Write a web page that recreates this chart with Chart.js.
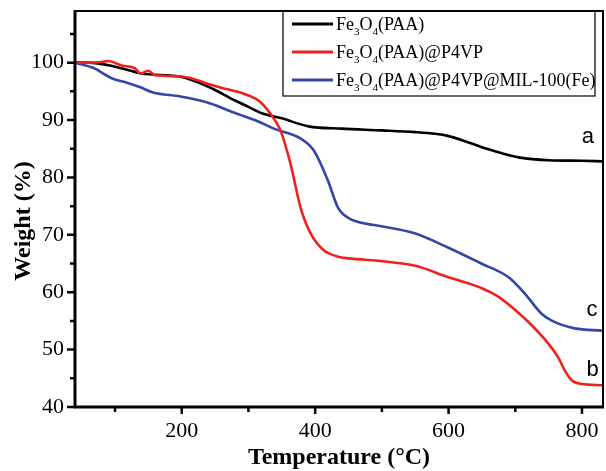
<!DOCTYPE html>
<html><head><meta charset="utf-8">
<script src="https://cdn.jsdelivr.net/npm/chart.js@4"></script>
<style>html,body{margin:0;padding:0;background:#fff}#c{display:block}</style>
</head><body>
<canvas id="c" width="606" height="471"></canvas>
<script>
// ---- data ----
const seriesLabels = ['Fe₃O₄(PAA)', 'Fe₃O₄(PAA)@P4VP', 'Fe₃O₄(PAA)@P4VP@MIL-100(Fe)'];
const curveLetters = ['a', 'b', 'c'];

const tempA   = [40, 60, 100, 140, 200, 240, 280, 300, 320, 350, 390, 440, 500, 550, 580, 600, 630, 660, 680, 705, 750, 800, 830];
const weightA = [100, 100, 99.3, 98.1, 97.5, 95.8, 93.4, 92.3, 91.2, 90.3, 88.9, 88.5, 88.2, 87.9, 87.6, 87.2, 86.1, 84.9, 84.2, 83.5, 83.0, 82.9, 82.8];

const tempB   = [40, 60, 80, 90, 110, 130, 138, 150, 160, 200, 240, 260, 290, 315, 333, 348, 363, 378, 393, 413, 438, 450, 500, 550, 600, 650, 675, 700, 725, 750, 765, 775, 785, 800, 830];
const weightB = [100, 100, 100.1, 100.3, 99.5, 99.0, 98.1, 98.6, 97.8, 97.6, 96.3, 95.6, 94.7, 93.4, 91.1, 88.2, 82.4, 74.8, 70.3, 67.3, 66.1, 65.9, 65.4, 64.6, 62.6, 60.7, 59.2, 56.9, 54.2, 51.0, 48.5, 46.2, 44.6, 44.0, 43.8];

const tempC   = [40, 67, 97, 118, 138, 157, 198, 243, 278, 288, 314, 338, 378, 398, 419, 434, 449, 488, 499, 548, 599, 649, 690, 714, 739, 754, 789, 830];
const weightC = [100, 99.1, 97.2, 96.5, 95.7, 94.8, 94.1, 92.9, 91.3, 90.9, 89.8, 88.5, 86.8, 84.7, 79.5, 74.8, 73.0, 71.7, 71.5, 70.3, 67.8, 65.0, 62.6, 59.8, 56.3, 55.1, 53.7, 53.3];

const xMajorTicks = [200, 400, 600, 800];
const xMinorTicks = [100, 300, 500, 700];
const yMajorTicks = [40, 50, 60, 70, 80, 90, 100];
const yMinorTicks = [45, 55, 65, 75, 85, 95, 105];
// letter anchor points in data units (temperature, weight)
const letterTemps   = [809, 816, 815];
const letterWeights = [87.0, 46.4, 56.9];

const X_MIN = 40, X_MAX = 831.5, Y_MIN = 40, Y_MAX = 109;

// ---- build ----
const colors = ['#000000', '#f0201c', '#3646a6'];
function pts(xs, ys) { return xs.map((x, i) => ({x, y: ys[i]})); }
const dataSets = [pts(tempA, weightA), pts(tempB, weightB), pts(tempC, weightC)];

const serif = "'Liberation Serif', 'Times New Roman', serif";

const decorPlugin = {
  id: 'decor',
  afterDraw(chart) {
    const ctx = chart.ctx;
    const xs = chart.scales.x, ys = chart.scales.y;
    const ca = chart.chartArea;
    ctx.save();
    ctx.strokeStyle = '#000';
    ctx.lineCap = 'butt';
    // frame
    ctx.lineWidth = 2;
    ctx.beginPath();
    ctx.moveTo(ca.left, ca.top); ctx.lineTo(ca.right, ca.top); ctx.lineTo(ca.right, ca.bottom);
    ctx.stroke();
    ctx.lineWidth = 3;
    ctx.beginPath();
    ctx.moveTo(ca.left, ca.top - 1); ctx.lineTo(ca.left, ca.bottom); ctx.lineTo(ca.right + 1, ca.bottom);
    ctx.stroke();
    // ticks
    ctx.lineWidth = 2.5;
    ctx.beginPath();
    xMajorTicks.forEach(v => { const p = xs.getPixelForValue(v); ctx.moveTo(p, ca.bottom); ctx.lineTo(p, ca.bottom + 7); });
    xMinorTicks.forEach(v => { const p = xs.getPixelForValue(v); ctx.moveTo(p, ca.bottom); ctx.lineTo(p, ca.bottom + 5); });
    yMajorTicks.forEach(v => { const p = ys.getPixelForValue(v); ctx.moveTo(ca.left, p); ctx.lineTo(ca.left - 8, p); });
    yMinorTicks.forEach(v => { const p = ys.getPixelForValue(v); ctx.moveTo(ca.left, p); ctx.lineTo(ca.left - 5, p); });
    ctx.stroke();

    // y title
    ctx.save();
    ctx.translate(30, 221);
    ctx.rotate(-Math.PI / 2);
    ctx.font = "bold 24px " + serif;
    ctx.fillStyle = '#000';
    ctx.textAlign = 'center';
    ctx.textBaseline = 'alphabetic';
    ctx.fillText('Weight (%)', 0, 0);
    ctx.restore();

    // legend box
    const bx = 283, by = ca.top, bw = 312, bh = 85;
    ctx.lineWidth = 1.2;
    ctx.strokeRect(bx, by, bw, bh);
    const rowY = [24, 52, 80];
    const tails = ['(PAA)', '(PAA)@P4VP', '(PAA)@P4VP@MIL-100(Fe)'];
    rowY.forEach((y, i) => {
      ctx.strokeStyle = colors[i];
      ctx.lineWidth = 3;
      ctx.beginPath(); ctx.moveTo(292, y); ctx.lineTo(333, y); ctx.stroke();
      ctx.fillStyle = '#000';
      ctx.textAlign = 'left';
      ctx.textBaseline = 'alphabetic';
      let x = 336; const base = y + 6;
      const big = "18px " + serif, small = "11px " + serif;
      const parts = [['Fe', big, 0], ['3', small, 5], ['O', big, 0], ['4', small, 5], [tails[i], big, 0]];
      parts.forEach(([t, f, dy]) => { ctx.font = f; ctx.fillText(t, x, base + dy); x += ctx.measureText(t).width; });
    });

    // curve letters
    ctx.font = "22px 'Liberation Sans', Arial, sans-serif";
    ctx.fillStyle = '#000';
    ctx.textAlign = 'center';
    ctx.textBaseline = 'middle';
    curveLetters.forEach((l, i) => {
      ctx.fillText(l, xs.getPixelForValue(letterTemps[i]), ys.getPixelForValue(letterWeights[i]));
    });
    ctx.restore();
  }
};

function noPad(s) { s.paddingTop = 0; s.paddingBottom = 0; s.paddingLeft = 0; s.paddingRight = 0; }

new Chart(document.getElementById('c'), {
  type: 'line',
  data: {
    datasets: dataSets.map((d, i) => ({
      label: seriesLabels[i],
      data: d,
      borderColor: colors[i],
      backgroundColor: colors[i],
      borderWidth: 2.6,
      pointRadius: 0,
      fill: false,
      cubicInterpolationMode: 'monotone',
      order: i === 1 ? 0 : 1
    }))
  },
  options: {
    responsive: false,
    animation: false,
    devicePixelRatio: 1,
    layout: { padding: { left: 0, right: 3, top: 11, bottom: 0 } },
    plugins: { legend: { display: false }, tooltip: { enabled: false } },
    scales: {
      x: {
        type: 'linear', min: X_MIN, max: X_MAX,
        afterBuildTicks: s => { s.ticks = xMajorTicks.map(v => ({value: v})); },
        afterFit: s => { s.height = 64; noPad(s); },
        grid: { display: false, drawTicks: false },
        border: { display: false },
        ticks: { font: { family: serif, size: 22 }, color: '#000', padding: 11, maxRotation: 0, autoSkip: false },
        title: { display: true, text: 'Temperature (°C)', color: '#000',
                 font: { family: serif, size: 24, weight: 'bold', lineHeight: 1 }, padding: { top: 0, bottom: 1 } }
      },
      y: {
        type: 'linear', min: Y_MIN, max: Y_MAX,
        afterBuildTicks: s => { s.ticks = yMajorTicks.map(v => ({value: v})); },
        afterFit: s => { s.width = 75; noPad(s); },
        grid: { display: false, drawTicks: false },
        border: { display: false },
        ticks: { font: { family: serif, size: 22 }, color: '#000', padding: 11, autoSkip: false }
      }
    }
  },
  plugins: [decorPlugin]
});
</script>
</body></html>
